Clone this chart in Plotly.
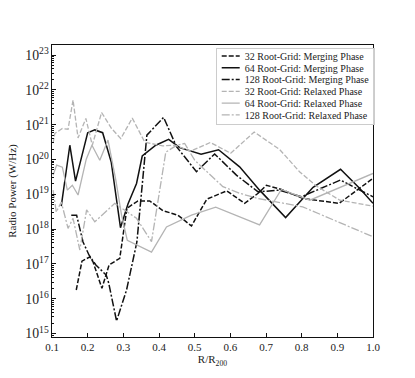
import plotly.graph_objects as go
import numpy as np

# R/R200 and log10(P) for each run
r_m32 = [0.168, 0.184, 0.206, 0.215, 0.240, 0.260, 0.290, 0.310, 0.341, 0.374, 0.411, 0.453,
         0.491, 0.534, 0.590, 0.640, 0.678, 0.701, 0.743, 0.804, 0.905, 0.972, 1.0]
p_m32 = [16.25, 17.08, 17.20, 17.06, 16.30, 16.97, 17.16, 18.60, 18.81, 18.81, 18.53, 18.40,
         18.09, 18.86, 19.10, 18.74, 19.03, 19.26, 19.14, 18.88, 18.74, 19.24, 19.46]

r_m64 = [0.126, 0.150, 0.166, 0.200, 0.220, 0.242, 0.266, 0.292, 0.313, 0.337, 0.353, 0.391,
         0.427, 0.458, 0.518, 0.567, 0.626, 0.682, 0.755, 0.832, 0.909, 0.963, 1.0]
p_m64 = [18.66, 20.41, 19.38, 20.77, 20.85, 20.77, 19.93, 18.04, 18.72, 19.31, 20.10, 20.41,
         20.58, 20.34, 20.15, 20.28, 19.79, 19.12, 18.33, 19.20, 19.72, 19.17, 18.74]

r_m128 = [0.154, 0.169, 0.187, 0.204, 0.223, 0.252, 0.259, 0.281, 0.309, 0.338, 0.366, 0.413,
          0.449, 0.505, 0.556, 0.617, 0.678, 0.738, 0.799, 0.909, 0.963, 1.0]
p_m128 = [18.40, 18.40, 17.63, 17.25, 16.97, 16.68, 16.45, 15.36, 16.25, 17.63, 20.70, 21.21,
          20.37, 19.65, 20.16, 19.55, 19.07, 19.12, 18.93, 19.41, 19.12, 18.93]

r_r32 = [0.103, 0.108, 0.129, 0.145, 0.159, 0.173, 0.195, 0.213, 0.239, 0.267, 0.293, 0.325,
         0.360, 0.410, 0.444, 0.489, 0.544, 0.601, 0.667, 0.738, 0.794, 0.841, 0.907, 1.0]
p_r32 = [20.47, 20.75, 20.89, 20.87, 21.71, 20.62, 21.18, 20.41, 21.35, 20.89, 20.60, 21.19,
         20.50, 20.39, 20.41, 20.24, 20.49, 20.18, 20.79, 20.29, 19.65, 19.24, 18.83, 18.66]

r_r64 = [0.103, 0.113, 0.129, 0.143, 0.157, 0.173, 0.196, 0.212, 0.234, 0.257, 0.279, 0.295,
         0.311, 0.379, 0.421, 0.491, 0.559, 0.617, 0.682, 0.743, 0.823, 1.0]
p_r64 = [19.55, 19.84, 19.78, 19.12, 19.26, 18.98, 20.01, 20.41, 19.98, 20.56, 19.41, 18.40,
         17.68, 17.34, 18.06, 18.40, 18.63, 18.40, 18.12, 19.14, 18.83, 19.60]

r_r128 = [0.103, 0.112, 0.126, 0.145, 0.159, 0.178, 0.197, 0.220, 0.276, 0.337, 0.379, 0.419,
          0.450, 0.472, 0.500, 0.579, 0.626, 0.678, 0.803, 1.0]
p_r128 = [19.12, 18.49, 18.78, 18.02, 18.31, 17.40, 18.55, 18.21, 18.74, 18.31, 17.64, 20.21,
          20.41, 20.46, 19.98, 19.22, 19.03, 18.88, 18.64, 17.78]

names = ["32 Root-Grid: Merging Phase", "64 Root-Grid: Merging Phase", "128 Root-Grid: Merging Phase",
         "32 Root-Grid: Relaxed Phase", "64 Root-Grid: Relaxed Phase", "128 Root-Grid: Relaxed Phase"]

black = "#111111"
grey = "#b4b4b4"
dashed = "5px,2px"
dashdot = "8px,2px,2px,2px"

series = [
    (r_m32, p_m32, black, dashed, 1.5),
    (r_m64, p_m64, black, "solid", 1.5),
    (r_m128, p_m128, black, dashdot, 1.5),
    (r_r32, p_r32, grey, dashed, 1.3),
    (r_r64, p_r64, grey, "solid", 1.3),
    (r_r128, p_r128, grey, dashdot, 1.3),
]

fig = go.Figure()
for name, (r, p, col, dash, w) in zip(names, series):
    fig.add_trace(go.Scatter(
        x=r, y=10 ** np.array(p), mode="lines", name=name,
        line=dict(color=col, dash=dash, width=w),
    ))

font = "Liberation Serif, Times New Roman, serif"
fig.update_layout(
    width=415, height=378,
    margin=dict(l=52, r=42, t=45, b=41),
    paper_bgcolor="white", plot_bgcolor="white",
    font=dict(family=font, size=11, color="#222"),
    showlegend=True,
    legend=dict(
        x=0.51, y=0.99, xanchor="left", yanchor="top",
        bgcolor="rgba(255,255,255,0.8)", bordercolor="#cccccc", borderwidth=1,
        font=dict(family=font, size=10, color="#222"),
        tracegroupgap=0,
    ),
)
fig.update_xaxes(
    range=[0.1, 1.0], dtick=0.1, tickformat=".1f",
    showline=True, linecolor="#111", linewidth=1.2, mirror=True,
    ticks="inside", ticklen=4, tickcolor="#111", showgrid=False, zeroline=False,
    title=dict(text="R/R<sub>200</sub>", font=dict(size=11), standoff=2),
)
fig.update_yaxes(
    type="log", range=[14.9, 23.29], dtick=1, exponentformat="power",
    showline=True, linecolor="#111", linewidth=1.2, mirror=True,
    ticks="inside", ticklen=4, tickcolor="#111", showgrid=False, zeroline=False,
    minor=dict(ticks="inside", ticklen=2, tickcolor="#111", dtick="D1", showgrid=False),
    title=dict(text="Radio Power (W/Hz)", font=dict(size=11), standoff=6),
)

# tighten the legend rows (matplotlib-like spacing) and drop the page margin
post = """
document.body.style.margin = '0';
var gd = document.getElementById('{plot_id}');
function tightLegend() {
  var lg = gd.querySelector('g.legend');
  if (!lg) return;
  var bg = lg.querySelector('rect.bg');
  var rows = lg.querySelectorAll('g.traces');
  if (!bg || !rows.length) return;
  var bgTop = bg.getCTM().f + parseFloat(bg.getAttribute('y') || 0);
  var parTop = rows[0].parentNode.getCTM().f;
  var wmax = 0;
  for (var i = 0; i < rows.length; i++) {
    var t = rows[i];
    var m = /translate\\(([-\\d.]+)/.exec(t.getAttribute('transform') || '');
    var x0 = m ? parseFloat(m[1]) : 0;
    t.setAttribute('transform', 'translate(' + x0 + ',' + (bgTop - parTop + 7.5 + i * 11.8) + ')');
    var p = t.querySelector('path.js-line');
    if (p) p.setAttribute('d', 'M5,0h18');
    var tx = t.querySelector('text.legendtext');
    if (tx) {
      tx.setAttribute('x', 28);
      wmax = Math.max(wmax, tx.getComputedTextLength());
    }
  }
  bg.setAttribute('height', 7.5 + rows.length * 11.8 - 2);
  bg.setAttribute('width', wmax + 34);
}
tightLegend();
gd.on && gd.on('plotly_afterplot', tightLegend);
setTimeout(tightLegend, 50);
"""
fig.write_html("out.html", post_script=post, config={"displayModeBar": False})
